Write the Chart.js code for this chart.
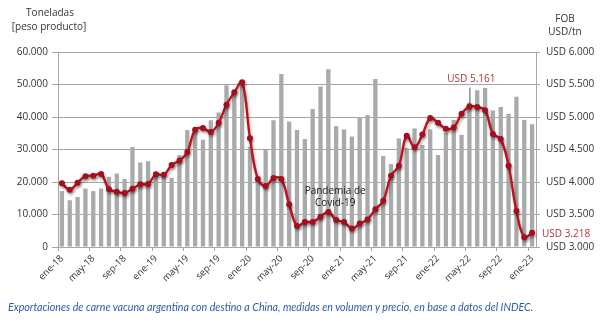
<!DOCTYPE html>
<html>
<head>
<meta charset="utf-8">
<script src="https://cdn.jsdelivr.net/npm/chart.js@4"></script>
<style>
  body { margin: 0; background: #fff; }
  #wrap { position: relative; width: 604px; height: 330px; overflow: hidden; }
  canvas { position: absolute; left: 0; top: 0; }
  .t { position: absolute; font-family: "Open Sans", sans-serif; font-size: 10px; color: #333; white-space: nowrap; transform: translate(-50%, -50%); }
  #caption { position: absolute; left: 8px; top: 300px; font-family: Lato, sans-serif; font-style: italic; font-size: 10px; color: #2b5ca5; white-space: nowrap; }
</style>
</head>
<body>
<div id="wrap">
  <canvas id="myChart" width="604" height="330"></canvas>
  <div class="t" style="left:50px; top:12px">Toneladas</div>
  <div class="t" style="left:49px; top:26px">[peso producto]</div>
  <div class="t" style="left:565px; top:18px">FOB</div>
  <div class="t" style="left:565px; top:31px">USD/tn</div>
  <div id="caption">Exportaciones de carne vacuna argentina con destino a China, medidas en volumen y precio, en base a datos del INDEC.</div>
</div>
<script>
// meses ene-18 .. ene-23
let aMeses = [
  'ene-18','feb-18','mar-18','abr-18','may-18','jun-18','jul-18','ago-18','sep-18','oct-18','nov-18','dic-18',
  'ene-19','feb-19','mar-19','abr-19','may-19','jun-19','jul-19','ago-19','sep-19','oct-19','nov-19','dic-19',
  'ene-20','feb-20','mar-20','abr-20','may-20','jun-20','jul-20','ago-20','sep-20','oct-20','nov-20','dic-20',
  'ene-21','feb-21','mar-21','abr-21','may-21','jun-21','jul-21','ago-21','sep-21','oct-21','nov-21','dic-21',
  'ene-22','feb-22','mar-22','abr-22','may-22','jun-22','jul-22','ago-22','sep-22','oct-22','nov-22','dic-22',
  'ene-23'
];

// toneladas (peso producto)
let aToneladas = [
  17200, 14400, 15400, 18000, 17200, 18000, 21600, 22600, 20900, 30800, 26000, 26400,
  22100, 22000, 21300, 28300, 36000, 35500, 33000, 39000, 41400, 49800, 48000, 50500,
  30900, 21000, 30000, 39000, 53200, 38600, 36000, 33200, 42500, 49400, 54700, 37200,
  36200, 34000, 39900, 40600, 51700, 28000, 25500, 33400, 30500, 36500, 31400, 36200,
  28300, 35200, 39100, 34500, 44500, 48200, 48900, 42000, 43100, 41000, 46200, 39100,
  37800
];

// precio FOB USD/tn
let aPrecio = [
  3980, 3880, 3990, 4090, 4095, 4125, 3890, 3850, 3830, 3895, 3965, 3970,
  4120, 4110, 4260, 4330, 4460, 4805, 4830, 4770, 4910, 5190, 5380, 5535,
  4675, 4045, 3940, 4060, 4045, 3655, 3325, 3385, 3385, 3465, 3540, 3415,
  3385, 3285, 3360, 3425, 3580, 3710, 4095, 4250, 4710, 4535, 4730, 4985,
  4910, 4820, 4840, 5050, 5161, 5155, 5105, 4740, 4660, 4250, 3555, 3150,
  3218
];

let sFont = '"Open Sans", sans-serif';
let sGris = '#a6a6a6';
let sTexto = '#333333';
let sRojo = '#c0111f';

function miles(v) {
  return v.toString().replace(/\B(?=(\d{3})+(?!\d))/g, '.');
}

// sombra bajo la linea, como en Excel
let sombraPlugin = {
  id: 'sombra',
  beforeDatasetDraw(chart, args) {
    if (args.index === 0) {
      let c = chart.ctx;
      c.save();
      c.shadowColor = 'rgba(0,0,0,0.35)';
      c.shadowBlur = 3;
      c.shadowOffsetX = 1;
      c.shadowOffsetY = 2;
    }
  },
  afterDatasetDraw(chart, args) {
    if (args.index === 0) chart.ctx.restore();
  }
};

// textos sobre el grafico
let notasPlugin = {
  id: 'notas',
  afterDraw(chart) {
    let c = chart.ctx;
    let x = chart.scales.x;
    let yP = chart.scales.yPrecio;
    c.save();
    c.font = '10px ' + sFont;
    c.textBaseline = 'middle';

    // pico USD 5.161
    let iPico = aPrecio.indexOf(5161);
    let px = x.getPixelForValue(iPico);
    let py = yP.getPixelForValue(aPrecio[iPico]);
    c.strokeStyle = '#555';
    c.lineWidth = 1;
    c.beginPath();
    c.moveTo(px + 0.5, py - 19);
    c.lineTo(px + 0.5, py - 2);
    c.stroke();
    c.fillStyle = '#b3303a';
    c.textAlign = 'center';
    c.fillText('USD ' + miles(aPrecio[iPico]), px + 2, py - 27);

    // ultimo valor
    let iUlt = aPrecio.length - 1;
    c.textAlign = 'left';
    c.fillText('USD ' + miles(aPrecio[iUlt]), chart.chartArea.right + 6, yP.getPixelForValue(aPrecio[iUlt]) + 1);

    // pandemia
    c.fillStyle = '#222';
    c.textAlign = 'center';
    let cx = x.getPixelForValue(35) - 1;
    c.fillText('Pandemia de', cx, yP.getPixelForValue(3860));
    c.fillText('Covid-19', cx, yP.getPixelForValue(3675));
    c.restore();
  }
};

let ctx = document.getElementById('myChart').getContext('2d');

let myChart = new Chart(ctx, {
  data: {
    labels: aMeses,
    datasets: [{
      type: 'line',
      label: 'Precio FOB',
      data: aPrecio,
      yAxisID: 'yPrecio',
      borderColor: sRojo,
      borderWidth: 2.4,
      tension: 0.4,
      pointRadius: 3,
      pointBackgroundColor: '#a30f1c',
      pointBorderColor: '#a30f1c',
      pointBorderWidth: 0,
      order: 0
    }, {
      type: 'bar',
      label: 'Toneladas',
      data: aToneladas,
      yAxisID: 'yTon',
      backgroundColor: '#a9abab',
      barPercentage: 0.55,
      categoryPercentage: 1,
      order: 1
    }]
  },
  options: {
    responsive: false,
    animation: false,
    layout: { padding: { top: 52, left: 0, right: 0, bottom: 0 } },
    plugins: { legend: { display: false }, tooltip: { enabled: false } },
    scales: {
      x: {
        offset: true,
        afterFit(scale) { scale.height = 83; },
        border: { color: sGris },
        grid: {
          offset: true,
          drawOnChartArea: false,
          tickLength: 4,
          color: (c) => (c.index % 4 === 0 ? sGris : 'rgba(0,0,0,0)')
        },
        ticks: {
          autoSkip: false,
          maxRotation: 45,
          minRotation: 45,
          padding: 2,
          color: sTexto,
          font: { family: sFont, size: 9.5 },
          callback: function (v, i) { return i % 4 === 0 ? aMeses[i] : ''; }
        }
      },
      yTon: {
        position: 'left',
        min: 0,
        max: 60000,
        afterFit(scale) { scale.width = 58; },
        border: { color: sGris },
        grid: { color: sGris, tickLength: 6 },
        ticks: {
          stepSize: 10000,
          padding: 4,
          color: sTexto,
          font: { family: sFont, size: 10 },
          callback: (v) => miles(v)
        }
      },
      yPrecio: {
        position: 'right',
        min: 3000,
        max: 6000,
        afterFit(scale) { scale.width = 68; },
        border: { color: sGris },
        grid: { drawOnChartArea: false, color: sGris, tickLength: 4 },
        ticks: {
          stepSize: 500,
          padding: 6,
          color: sTexto,
          font: { family: sFont, size: 10 },
          callback: (v) => 'USD ' + miles(v)
        }
      }
    }
  },
  plugins: [sombraPlugin, notasPlugin]
});

// ajustar el pie al ancho del original
let oCap = document.getElementById('caption');
let w = oCap.offsetWidth;
oCap.style.fontSize = (10 * 526 / w) + 'px';
</script>
</body>
</html>
